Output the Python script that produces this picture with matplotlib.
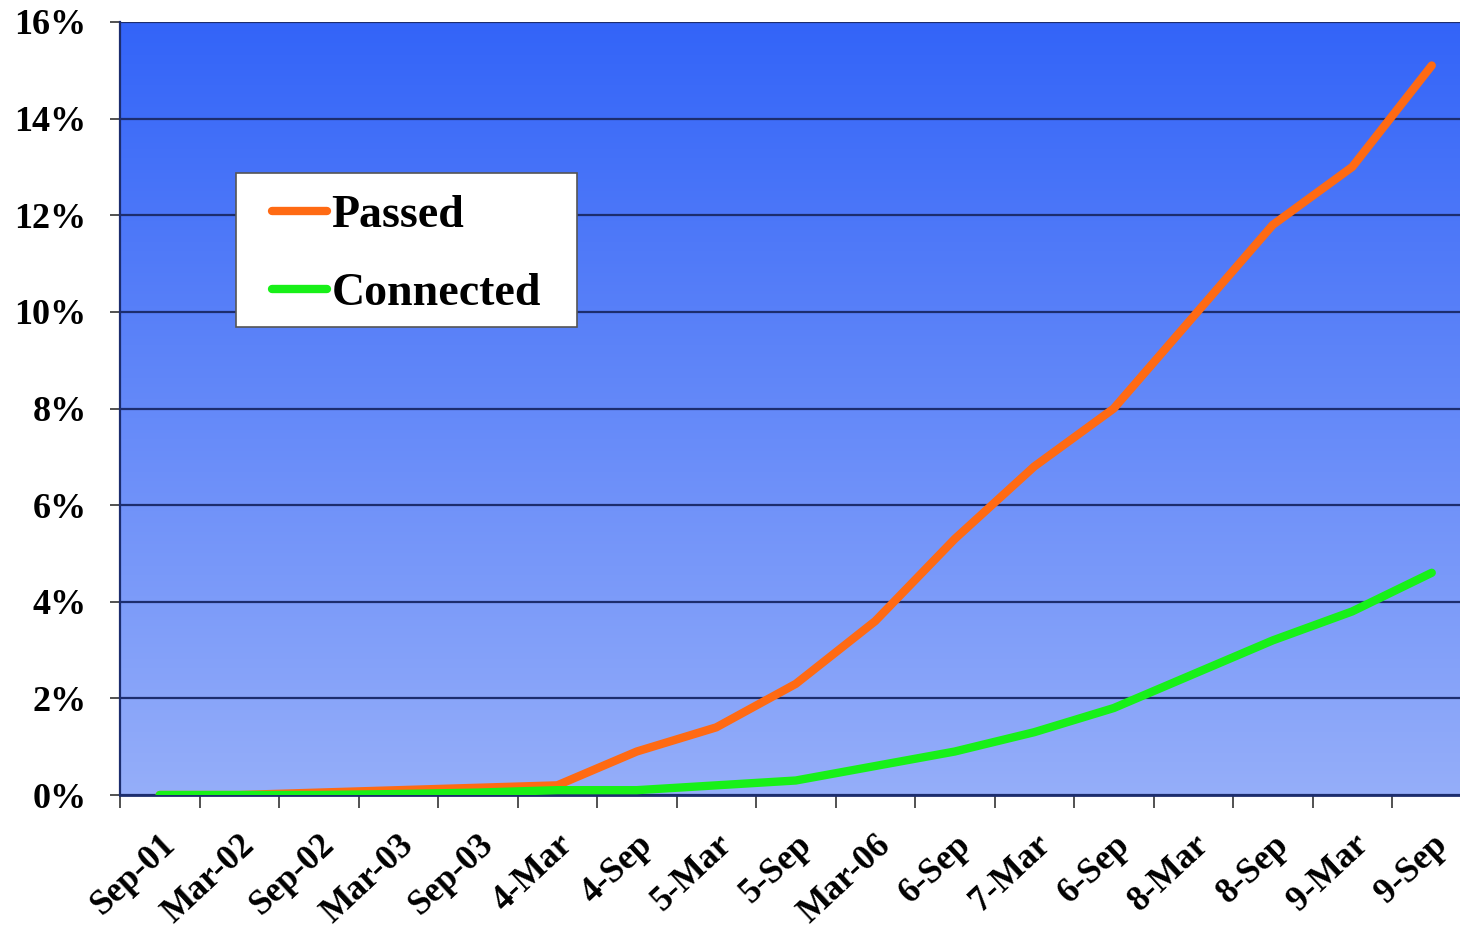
import numpy as np
import matplotlib
matplotlib.use("Agg")
import matplotlib.pyplot as plt
from matplotlib.colors import LinearSegmentedColormap
from matplotlib.patches import Rectangle

# categories as printed on the x axis
periods = ["Sep-01", "Mar-02", "Sep-02", "Mar-03", "Sep-03", "4-Mar", "4-Sep",
           "5-Mar", "5-Sep", "Mar-06", "6-Sep", "7-Mar", "6-Sep", "8-Mar",
           "8-Sep", "9-Mar", "9-Sep"]
passed = [0.0, 0.0, 0.05, 0.1, 0.15, 0.2, 0.9, 1.4, 2.3, 3.6, 5.3, 6.8, 8.0,
          9.9, 11.8, 13.0, 15.1]
connected = [0.0, 0.0, 0.0, 0.02, 0.05, 0.1, 0.1, 0.2, 0.3, 0.6, 0.9, 1.3,
             1.8, 2.5, 3.2, 3.8, 4.6]
y_ticks = [0, 2, 4, 6, 8, 10, 12, 14, 16]

plt.rcParams["font.family"] = ["Liberation Serif", "DejaVu Serif"]
plt.rcParams["font.weight"] = "bold"

fig = plt.figure(figsize=(14.6, 9.31), dpi=100)
# plot area runs a bit past the right edge, like the cropped original
ax = fig.add_axes([120 / 1460, 1 - 795 / 931, 1351.5 / 1460, 773 / 931])

n = len(periods)
x = np.arange(n)

# vertical blue gradient background
cmap = LinearSegmentedColormap.from_list("bg", ["#95AEFA", "#3364F8"])
grad = np.linspace(0, 1, 256).reshape(-1, 1)
ax.imshow(grad, aspect="auto", cmap=cmap, origin="lower",
          extent=[-0.5, n - 0.5, 0, 16], zorder=0)

for v in y_ticks:
    ax.axhline(v, color="#1C2D6E", lw=1.6, zorder=1)

ax.plot(x, passed, color="#FF6A13", lw=6, solid_capstyle="round",
        solid_joinstyle="round", label="Passed", zorder=3)
ax.plot(x, connected, color="#18F018", lw=6, solid_capstyle="round",
        solid_joinstyle="round", label="Connected", zorder=3)

ax.set_xlim(-0.5, n - 0.5)
ax.set_ylim(0, 16)
ax.set_yticks(y_ticks)
ax.set_yticklabels([f"{v}%" for v in y_ticks], fontsize=26, fontweight="bold")
ax.tick_params(axis="y", length=7, width=1.2, color="#333333", pad=17)

# ticks between categories, labels at category centres
ax.set_xticks(np.arange(n + 1) - 0.5)
ax.set_xticklabels([])
ax.set_xticks(x, minor=True)
ax.set_xticklabels(periods, minor=True, rotation=43, ha="right", va="top",
                   rotation_mode="anchor", fontsize=25.5, fontweight="bold")
ax.tick_params(axis="x", which="major", length=9, width=1.2, color="#333333")
ax.tick_params(axis="x", which="minor", length=0, pad=24)

for side in ["top", "right"]:
    ax.spines[side].set_visible(False)
ax.spines["left"].set_color("#1C2D6E")
ax.spines["bottom"].set_color("#1C2D6E")
ax.spines["left"].set_linewidth(1.6)
ax.spines["bottom"].set_linewidth(2.0)

# legend box drawn separately so the padding can match the original
ax.add_patch(Rectangle((0.0858, 0.6054), 0.2523, 0.1992, transform=ax.transAxes,
                       facecolor="white", edgecolor="#555555", lw=1.2, zorder=4))
leg = ax.legend(loc="upper left", bbox_to_anchor=(0.1125, 0.776), frameon=False,
                handlelength=1.2, handletextpad=0.1, labelspacing=0.77,
                borderpad=0, borderaxespad=0,
                prop={"weight": "bold", "size": 33})
leg.set_zorder(5)

fig.savefig("out.png", dpi=100)
